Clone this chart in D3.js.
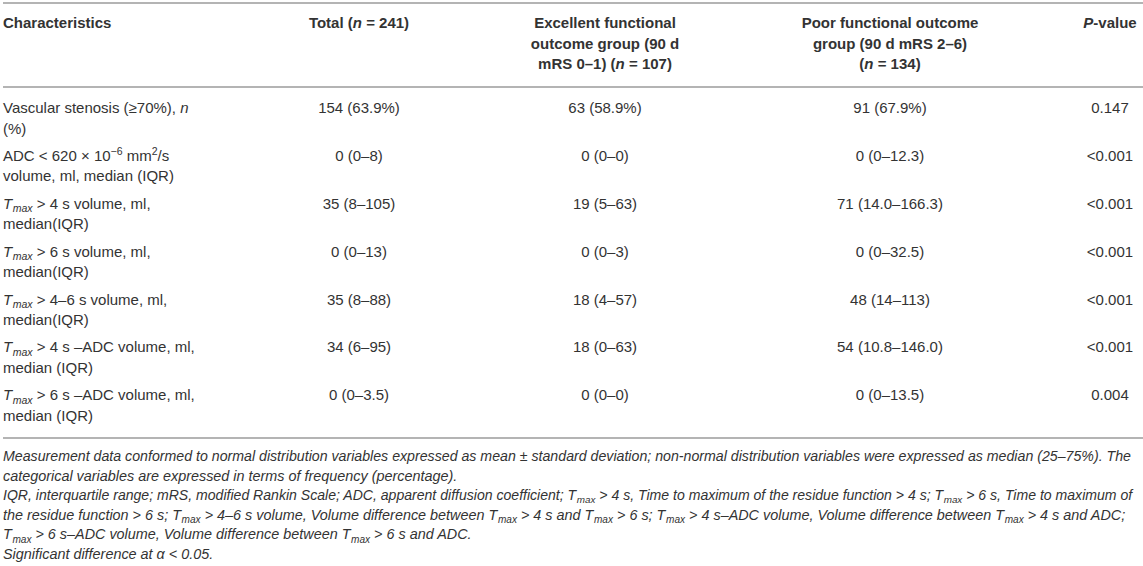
<!DOCTYPE html>
<html>
<head>
<meta charset="utf-8">
<script src="https://cdn.jsdelivr.net/npm/d3@7"></script>
<style>
  body { margin: 0; background: #fff; }
  svg text { white-space: pre; }
</style>
</head>
<body>
<div id="table"></div>
<script>

// markup: {i:..} italic, {sub:..} subscript, {sup:..} superscript
var TMAX = "{i:T}{sub:max}";

var headers = [
    ["Characteristics"],
    ["Total ({i:n} = 241)"],
    ["Excellent functional", "outcome group (90 d", "mRS 0–1) ({i:n} = 107)"],
    ["Poor functional outcome", "group (90 d mRS 2–6)", "({i:n} = 134)"],
    ["{i:P}-value"]
];

var characteristics = [
    ["Vascular stenosis (≥70%), {i:n}", "(%)"],
    ["ADC < 620 × 10{sup:−6} mm{sup:2}/s", "volume, ml, median (IQR)"],
    [TMAX + " > 4 s volume, ml,", "median(IQR)"],
    [TMAX + " > 6 s volume, ml,", "median(IQR)"],
    [TMAX + " > 4–6 s volume, ml,", "median(IQR)"],
    [TMAX + " > 4 s –ADC volume, ml,", "median (IQR)"],
    [TMAX + " > 6 s –ADC volume, ml,", "median (IQR)"]
];

var totalValues = ["154 (63.9%)", "0 (0–8)", "35 (8–105)", "0 (0–13)", "35 (8–88)", "34 (6–95)", "0 (0–3.5)"];
var excellentValues = ["63 (58.9%)", "0 (0–0)", "19 (5–63)", "0 (0–3)", "18 (4–57)", "18 (0–63)", "0 (0–0)"];
var poorValues = ["91 (67.9%)", "0 (0–12.3)", "71 (14.0–166.3)", "0 (0–32.5)", "48 (14–113)", "54 (10.8–146.0)", "0 (0–13.5)"];
var pValues = ["0.147", "<0.001", "<0.001", "<0.001", "<0.001", "<0.001", "0.004"];

var footnotes = [
    "Measurement data conformed to normal distribution variables expressed as mean ± standard deviation; non-normal distribution variables were expressed as median (25–75%). The",
    "categorical variables are expressed in terms of frequency (percentage).",
    "IQR, interquartile range; mRS, modified Rankin Scale; ADC, apparent diffusion coefficient; " + TMAX + " > 4 s, Time to maximum of the residue function > 4 s; " + TMAX + " > 6 s, Time to maximum of",
    "the residue function > 6 s; " + TMAX + " > 4–6 s volume, Volume difference between " + TMAX + " > 4 s and " + TMAX + " > 6 s; " + TMAX + " > 4 s–ADC volume, Volume difference between " + TMAX + " > 4 s and ADC;",
    TMAX + " > 6 s–ADC volume, Volume difference between " + TMAX + " > 6 s and ADC.",
    "Significant difference at α < 0.05."
];

// =====================================================================================================================
// LAYOUT
// =====================================================================================================================

var width = 1143, height = 566;
var fontSize = 15, noteSize = 14.4, lineH = 20.3;
var textColor = "#333", ruleColor = "#b4b4b4";
var maxLine = 1128;

var columns = [
    {x: 3, anchor: "start"},
    {x: 359, anchor: "middle"},
    {x: 605, anchor: "middle"},
    {x: 890, anchor: "middle"},
    {x: 1110, anchor: "middle"}
];

var svg = d3.select("#table").append("svg")
    .attr("width", width)
    .attr("height", height)
    .style("font-family", "'Liberation Sans', Arial, sans-serif")
    .style("font-size", fontSize + "px")
    .attr("fill", textColor);

var headTop = 3, headBottom = 87, bodyBottom = 438;

// first-line centre of each body row
var y = d3.scalePoint()
    .domain(d3.range(characteristics.length))
    .range([108, 395]);

var noteY = d3.scalePoint()
    .domain(d3.range(footnotes.length))
    .range([456, 554]);

// writes a markup string into a text element as tspans
function rich(text, str, size) {
    var re = /\{(i|sub|sup):([^}]*)\}/g, parts = [], last = 0, m;
    while ((m = re.exec(str)) !== null) {
        if (m.index > last) parts.push({t: str.slice(last, m.index)});
        parts.push({t: m[2], s: m[1]});
        last = re.lastIndex;
    }
    if (last < str.length) parts.push({t: str.slice(last)});

    text.attr("font-size", size);
    var shift = 0;
    parts.forEach(function(p) {
        var ts = text.append("tspan").text(p.t);
        var dy = 0;
        if (p.s === "i") ts.attr("font-style", "italic");
        if (p.s === "sub") {
            dy = 0.22 * size;
            ts.attr("font-size", size * 0.7).attr("font-style", "italic").attr("dx", 0.6);
        }
        if (p.s === "sup") { dy = -0.4 * size; ts.attr("font-size", size * 0.7); }
        if (dy - shift !== 0) ts.attr("dy", dy - shift);
        shift = dy;
    });
}

function cell(g, lines, col, yc, size, opts) {
    lines.forEach(function(line, i) {
        var t = g.append("text")
            .attr("x", columns[col].x)
            .attr("y", yc + i * lineH)
            .attr("dy", "0.35em")
            .attr("text-anchor", columns[col].anchor);
        if (opts && opts.bold) t.attr("font-weight", "bold");
        rich(t, line, size);
    });
}

// rules
var rules = [headTop, headBottom, bodyBottom];
svg.selectAll(".rule")
    .data(rules)
    .enter().append("line")
    .attr("class", "rule")
    .attr("x1", 3)
    .attr("x2", width)
    .attr("y1", function(d) { return d; })
    .attr("y2", function(d) { return d; })
    .attr("stroke", ruleColor)
    .attr("stroke-width", 2);

// header
var head = svg.append("g").attr("class", "header");
headers.forEach(function(lines, c) {
    cell(head, lines, c, 23, fontSize, {bold: true});
});

// body
var body = svg.append("g").attr("class", "body");
var valueCols = [totalValues, excellentValues, poorValues, pValues];
characteristics.forEach(function(lines, r) {
    cell(body, lines, 0, y(r), fontSize);
    valueCols.forEach(function(vals, c) {
        cell(body, [vals[r]], c + 1, y(r), fontSize);
    });
});

// footnotes
var notes = svg.append("g").attr("class", "notes")
    .attr("font-style", "italic");
footnotes.forEach(function(line, i) {
    var t = notes.append("text")
        .attr("x", 3)
        .attr("y", noteY(i))
        .attr("dy", "0.35em");
    rich(t, line, noteSize);
    // shrink a line that would run past the page width
    var len = t.node().getComputedTextLength();
    if (len > maxLine) {
        t.selectAll("tspan").remove();
        rich(t, line, noteSize * maxLine / len);
    }
});

</script>
</body>
</html>
